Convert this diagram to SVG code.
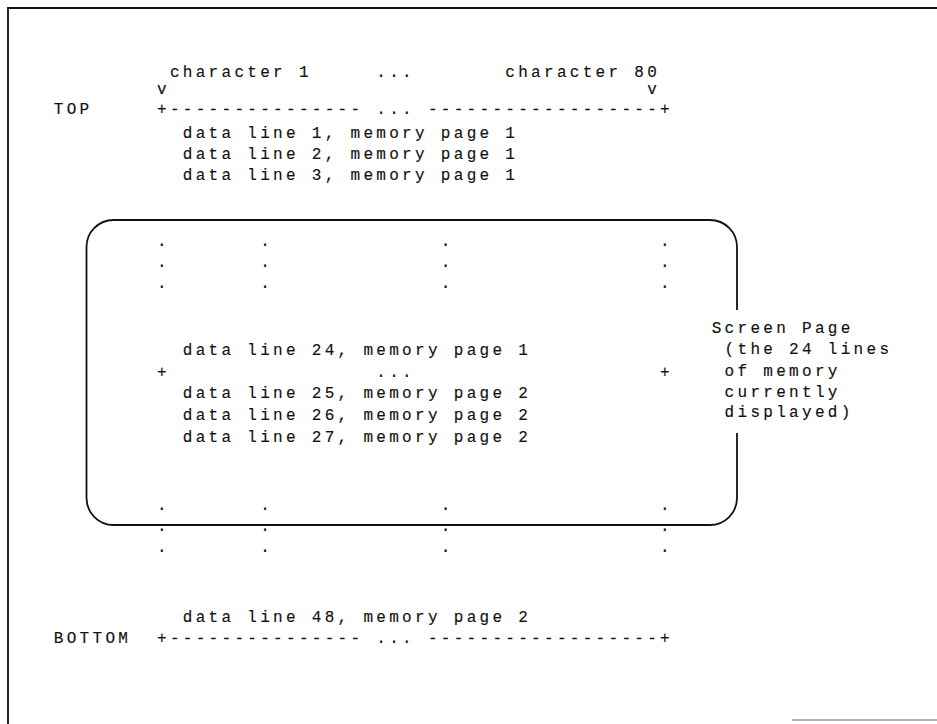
<svg xmlns="http://www.w3.org/2000/svg" width="937" height="724" viewBox="0 0 937 724">
<style>
.t{font-family:"Liberation Mono","DejaVu Sans Mono",monospace;font-size:16px;letter-spacing:3.3px;fill:#111;stroke:#111;stroke-width:0.15}
.frame{fill:none;stroke:#111;stroke-width:1.8}
.box{fill:none;stroke:#111;stroke-width:1.8}
</style>
<rect width="937" height="724" fill="#fff"/>
<g id="frame">
<path class="frame" d="M8,724 V8 H937"/>
<path d="M792,720 H937" stroke="#999" stroke-width="1.5"/>
</g>
<g id="header" class="t">
<text x="169.9" y="77">character 1</text>
<text x="376.3" y="77">...</text>
<text x="505.3" y="77">character 80</text>
<text x="157" y="94">v</text>
<text x="647.2" y="94">v</text>
</g>
<g id="top-rule" class="t">
<text x="53.8" y="114">TOP</text>
<text x="157" y="114">+---------------</text>
<text x="376.3" y="114">...</text>
<text x="427.9" y="114">------------------+</text>
</g>
<g id="lines-top" class="t">
<text x="182.8" y="138">data line 1, memory page 1</text>
<text x="182.8" y="159">data line 2, memory page 1</text>
<text x="182.8" y="180">data line 3, memory page 1</text>
</g>
<g id="screen-page">
<path class="box" d="M737,310 V247 A27,27 0 0 0 710,220 H113.5 A27,27 0 0 0 86.5,247 V498 A27,27 0 0 0 113.5,525 H710 A27,27 0 0 0 737,498 V433"/>
<g class="t">
<text x="711.7" y="333">Screen Page</text>
<text x="724.6" y="354">(the 24 lines</text>
<text x="724.6" y="376">of memory</text>
<text x="724.6" y="397">currently</text>
<text x="724.6" y="417">displayed)</text>
</g>
</g>
<g id="dots-upper" class="t">
<text x="157" y="246">.</text><text x="260.2" y="246">.</text><text x="440.8" y="246">.</text><text x="660.1" y="246">.</text>
<text x="157" y="267">.</text><text x="260.2" y="267">.</text><text x="440.8" y="267">.</text><text x="660.1" y="267">.</text>
<text x="157" y="288">.</text><text x="260.2" y="288">.</text><text x="440.8" y="288">.</text><text x="660.1" y="288">.</text>
</g>
<g id="lines-middle" class="t">
<text x="182.8" y="355">data line 24, memory page 1</text>
<text x="157" y="377">+</text>
<text x="376.3" y="377">...</text>
<text x="660.1" y="377">+</text>
<text x="182.8" y="398">data line 25, memory page 2</text>
<text x="182.8" y="420">data line 26, memory page 2</text>
<text x="182.8" y="442">data line 27, memory page 2</text>
</g>
<g id="dots-lower" class="t">
<text x="157" y="510">.</text><text x="260.2" y="510">.</text><text x="440.8" y="510">.</text><text x="660.1" y="510">.</text>
<text x="157" y="531">.</text><text x="260.2" y="531">.</text><text x="440.8" y="531">.</text><text x="660.1" y="531">.</text>
<text x="157" y="552">.</text><text x="260.2" y="552">.</text><text x="440.8" y="552">.</text><text x="660.1" y="552">.</text>
</g>
<g id="lines-bottom" class="t">
<text x="182.8" y="622">data line 48, memory page 2</text>
</g>
<g id="bottom-rule" class="t">
<text x="53.8" y="643">BOTTOM</text>
<text x="157" y="643">+---------------</text>
<text x="376.3" y="643">...</text>
<text x="427.9" y="643">------------------+</text>
</g>
</svg>
